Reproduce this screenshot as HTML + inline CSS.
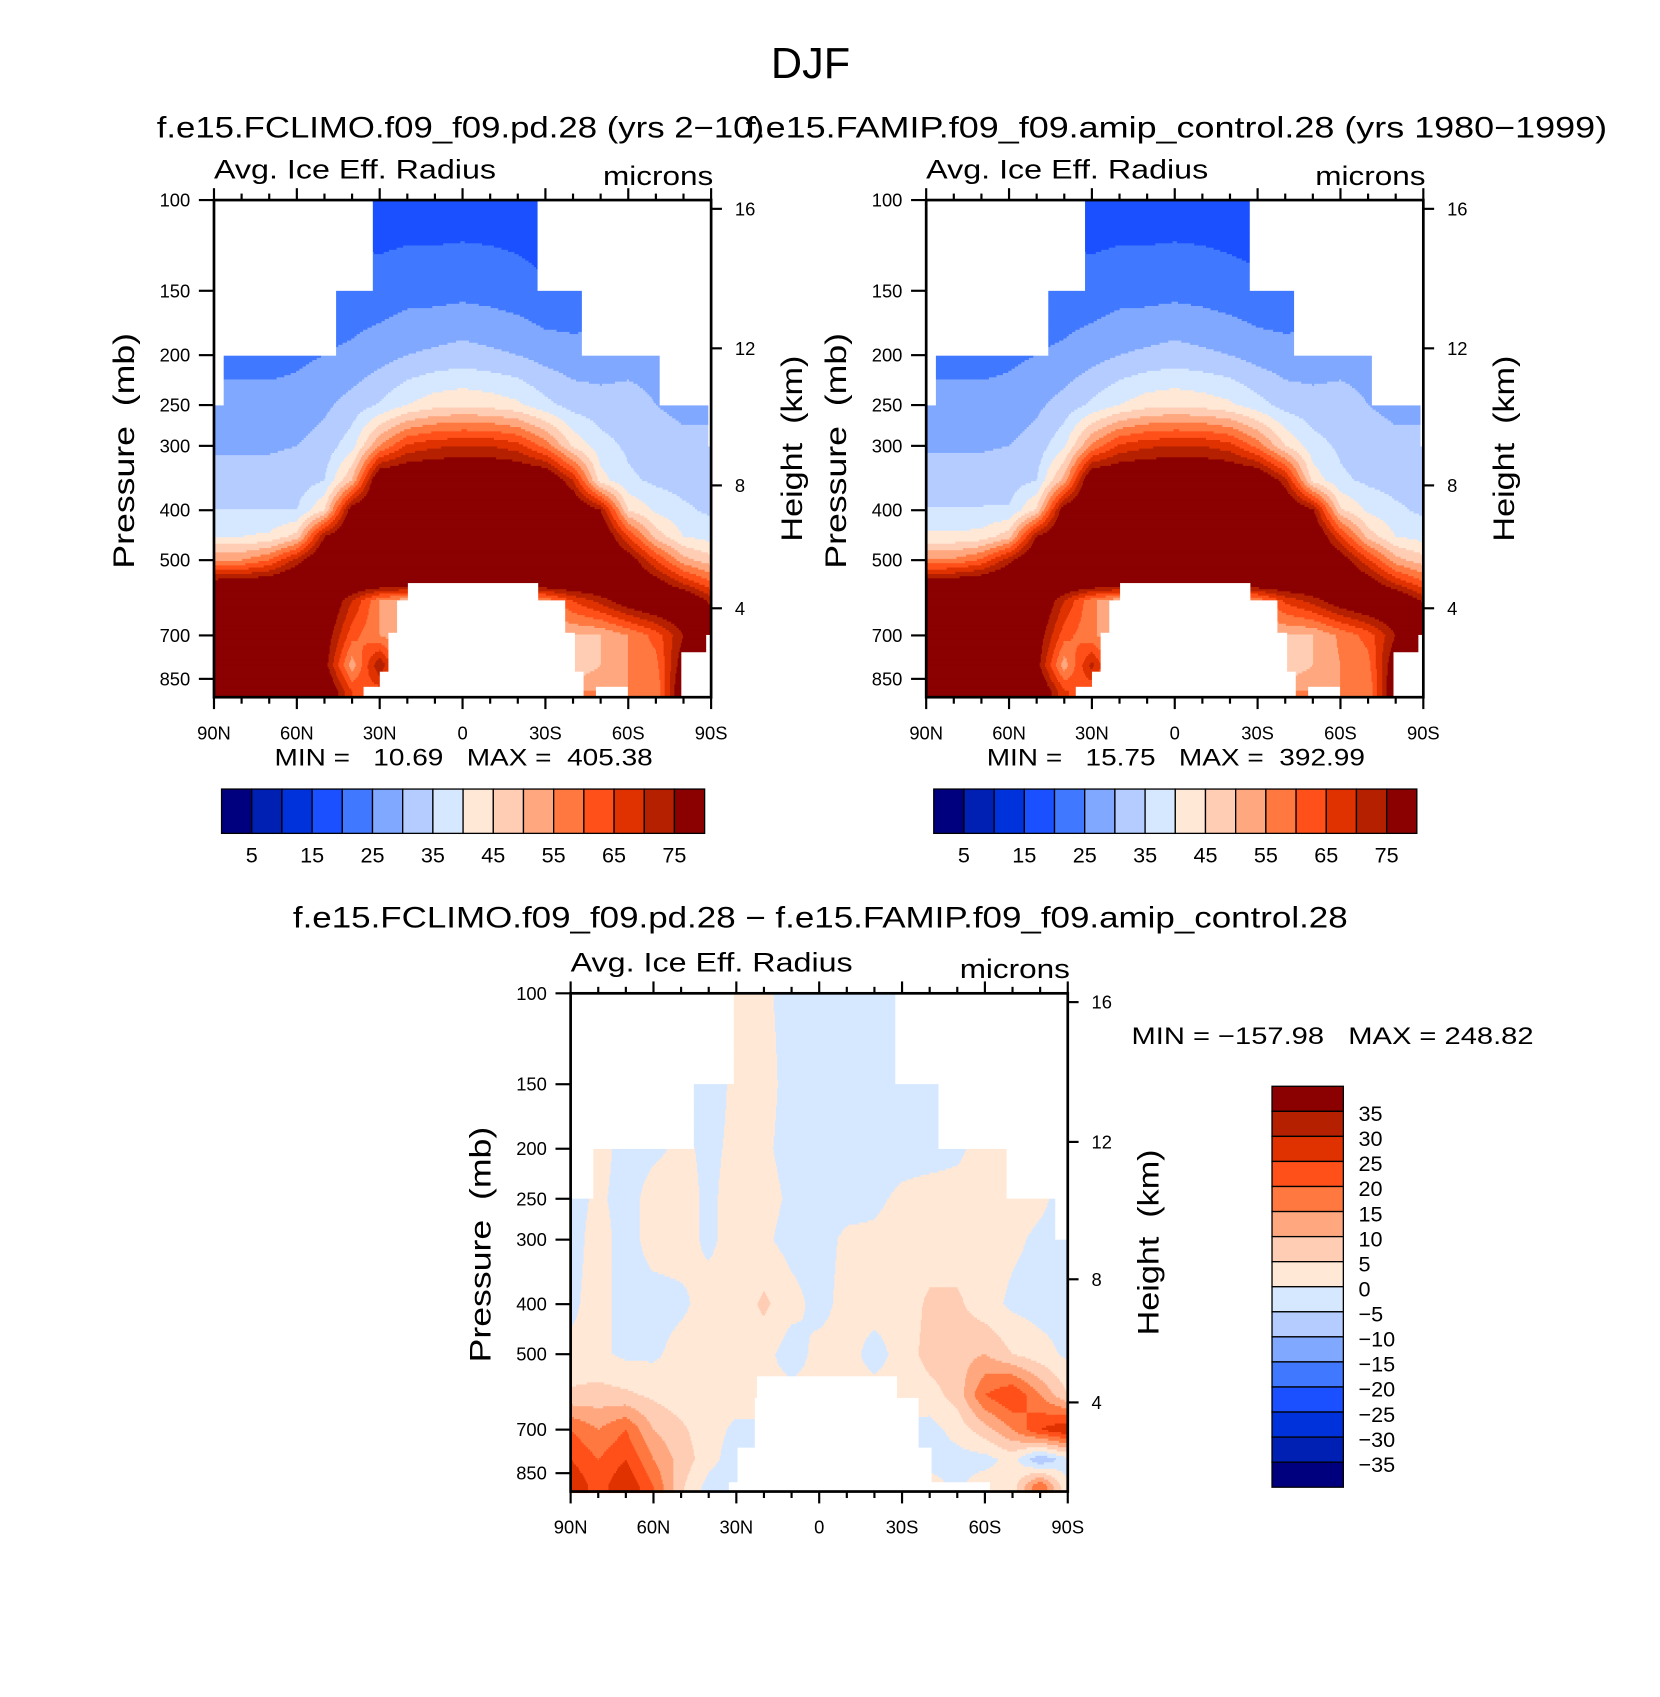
<!DOCTYPE html>
<html><head><meta charset="utf-8"><title>DJF Avg. Ice Eff. Radius</title>
<style>html,body{margin:0;padding:0;background:#fff}svg{display:block}text{font-family:"Liberation Sans",sans-serif;fill:#000}.pre{white-space:pre}</style>
</head><body>
<svg id="fig" xmlns="http://www.w3.org/2000/svg" width="1660" height="1697" viewBox="0 0 1536 1570">
<rect x="0" y="0" width="1536" height="1570" fill="#fff"/>
<text x="750" y="72" font-size="40" text-anchor="middle">DJF</text>
<text x="145" y="127" font-size="27" textLength="562" lengthAdjust="spacingAndGlyphs">f.e15.FCLIMO.f09_f09.pd.28 (yrs 2−10)</text>
<text x="690" y="127" font-size="27" textLength="797" lengthAdjust="spacingAndGlyphs">f.e15.FAMIP.f09_f09.amip_control.28 (yrs 1980−1999)</text>
<text x="271" y="858" font-size="27" textLength="976" lengthAdjust="spacingAndGlyphs">f.e15.FCLIMO.f09_f09.pd.28 − f.e15.FAMIP.f09_f09.amip_control.28</text>
<g id="p1"></g>
<g id="p2"></g>
<g id="p3"></g>
</svg>
<script>
const lats = [90,80,70,60,50,40,30,20,10,0,-10,-20,-30,-40,-50,-60,-70,-80,-90];
const climLevels = [100,150,200,250,300,350,400,450,500,550,600,700,800,900];
const clim1 = [
[19,19,19,19,18,18,17,17,17,17,17,17,17,18,18,19,19,19,19],
[22,22,22,22,22,22,22,23,23,23.5,23,22,20.5,21,22,22,22,23,23],
[23,23,23,24,25,26,28,30,31,32,31,30,28,27,27,28,28,28,28],
[27,27,27,27,29,32,35.5,40,43,44,43,41,36.5,33,32,32,30,29,29],
[29.5,29.5,29.5,30,32,38,55,66,69,70,70,67,58,44,37,34,32,31,31],
[31.5,31.5,31.5,32,35,50,85,85,85,85,85,85,85,70,42,36,34,33,33],
[35,35,35,35,45,80,85,85,85,85,85,85,85,85,75,45,39,36,34],
[40,40,41,47,75,85,85,85,85,85,85,85,85,85,85,65,48,40,38],
[55,55,60,72,85,85,85,85,85,85,85,85,85,85,85,80,65,52,47],
[77,78,80,85,85,85,85,85,85,85,85,85,85,85,85,85,78,68,60],
[85,85,85,85,85,70,55,50,50,50,50,50,55,65,72,80,85,85,73],
[85,85,85,85,80,62,55,50,50,50,50,50,50,50,50,55,62,75,85],
[85,85,85,85,78,52,75,50,50,50,50,50,45,45,50,55,58,80,85],
[85,85,85,85,85,65,62,55,55,55,55,55,55,55,55,55,55,85,85]
];
const clim2 = [
[19,19,19,19,18,18,17,17,17,17,17,17,17,18,18,19,19,19,19],
[22,22,22,22,22,22,22,23,23,23.5,23,22,21,21,22,22,22,23,23],
[23,23,23,24,25,26,28,30,31,32,31,30,28,27,27,28,28,28,28],
[27,27,27,27,29,32,36,40,43,44,43,41,37,33,32,32,30,29,29],
[29.5,29.5,29.5,30,32,39,56,66,69,70,70,67,58,45,37,34,32,31,31],
[32,32,32,32.5,35,52,85,85,85,85,85,85,85,72,43,36,34,33,33],
[35.5,35.5,35.5,35.5,46,80,85,85,85,85,85,85,85,85,76,46,39,36,34],
[41,41,42,48,75,85,85,85,85,85,85,85,85,85,85,66,48,40,38],
[56,56,61,73,85,85,85,85,85,85,85,85,85,85,85,80,66,52,47],
[78,79,81,85,85,85,85,85,85,85,85,85,85,85,85,85,79,68,60],
[85,85,85,85,85,70,56,50,50,50,50,50,55,66,72,80,85,85,74],
[85,85,85,85,80,62,56,50,50,50,50,50,50,50,50,56,62,75,85],
[85,85,85,85,78,52,72,50,50,50,50,50,45,45,50,55,58,82,85],
[85,85,85,85,85,66,60,55,55,55,55,55,55,55,55,55,55,85,85]
];
const diffLevels = [100,150,200,250,300,400,500,600,700,800,900];
const diffVals = [
[-2,-2,-2,-2,-2,-2,1,1,-2,-2,-2,-2,-2,-2,-2,-2,-2,-2,-2],
[-2,-2,-2,-2,-2,-2,1,2,-2,-2,-2,-2,-2,-2,-2,-2,-2,-2,-2],
[2,2,-2,-1,1,-1,1,1,-2,-2,-2,-2,-2,-2,-1,2,2,2,2],
[-2,1,-2,2,2,-1,2,2,-1,-2,-2,-1,1,2,2,2,2,1,-2],
[-2,2,-2,2,2,-1,2,1,-2,-2,1,1,2,2,2,2,1,-1,-2],
[-1,2,-2,-2,-1,2,2,6,2,-2,2,2,2,6,6,2,-1,-2,-2],
[1,1,-1,-1,2,2,2,2,-3,2,2,-2,2,7,8,10,5,2,-1],
[6,7,6,4,2,2,2,2,2,2,2,2,2,3,7,20,25,15,5],
[20,15,20,10,6,2,-1,-1,-1,-1,-1,-1,-1,-2,2,8,15,25,30],
[25,20,25,15,8,2,-3,-3,-3,-3,-3,-3,-3,-2,-2,-2,2,-10,-2],
[30,22,30,20,6,-2,-5,-5,-5,-5,-5,-5,-5,2,-1,3,2,20,0]
];
// masks: [latNorth, latSouth, pressure limit]
const climTopMask = [[90,32.6,150],[-27,-90,150],[90,45.8,200],[-42.9,-90,200],[90,86.4,250],[-71.4,-90,250],[-89,-90,300]];
const climBotMask = [[20,-27.4,551],[24,-37.3,600],[27,-40.8,690],[30,-44,820],[36,-44,880],[-79,-90,750],[-88,-90,700],[-48,-60,880]];
const diffTopMask = [[90,31,150],[-27.4,-90,150],[90,45.4,200],[-43,-90,200],[90,81.8,250],[-67.7,-90,250],[-85.3,-90,300]];
const diffBotMask = [[22.7,-28,550],[23.5,-36,605],[29.7,-40.6,760],[33,-43,880],[-43,-62,885]];
const colors = ["#00007f","#0020b4","#0032dc","#1a50ff","#4078ff","#80a8ff","#b4ccff","#d6e8ff","#ffe8d6","#ffccb4","#ffa880","#ff7840","#ff501a","#e03200","#b42000","#8b0000"];
const climBarLabels = ["5","15","25","35","45","55","65","75"];
const diffBarLabels = ["35","30","25","20","15","10","5","0","−5","−10","−15","−20","−25","−30","−35"];
const pTickVals = [100,150,200,250,300,400,500,700,850];
const hTickLabels = ["16","12","8","4"];
const hTickPress = [104,194,358,620];
const latTickVals = [90,60,30,0,-30,-60,-90];
const latTickLabels = ["90N","60N","30N","0","30S","60S","90S"];

const NS = "http://www.w3.org/2000/svg";
function mk(tag, attrs, parent){const e=document.createElementNS(NS,tag);for(const k in attrs)e.setAttribute(k,attrs[k]);parent.appendChild(e);return e;}

function drawPanel(g, o){
  const xs = lat => o.x0 + (90-lat)/180*o.w;
  const yp = p => o.y0 + (Math.log10(p)-2)/0.965*o.h;
  const latOf = x => 90 - (x-o.x0)/o.w*180;
  const pOf = y => Math.pow(10, 2 + (y-o.y0)/o.h*0.965);
  const L = o.levels.map(p=>Math.log10(p));
  function val(lat,p){
    let fi=(90-lat)/10; fi=Math.max(0,Math.min(18,fi));
    let i0=Math.min(17,Math.floor(fi)); const tx=fi-i0;
    const lp=Math.log10(p); let j0=0;
    if(lp<=L[0]){j0=0;} else if(lp>=L[L.length-1]){j0=L.length-2;} else {while(j0<L.length-2 && L[j0+1]<lp)j0++;}
    let ty=(lp-L[j0])/(L[j0+1]-L[j0]); ty=Math.max(0,Math.min(1,ty));
    const g0=o.grid[j0], g1=o.grid[j0+1];
    const a=g0[i0]*(1-tx)+g0[i0+1]*tx, b=g1[i0]*(1-tx)+g1[i0+1]*tx;
    return a*(1-ty)+b*ty;
  }
  function masked(lat,p){
    for(const m of o.topMask){ if(lat<=m[0]&&lat>=m[1]&&p<m[2]) return true; }
    for(const m of o.botMask){ if(lat<=m[0]&&lat>=m[1]&&p>m[2]) return true; }
    return false;
  }
  const field = mk("g",{},g);
  
  
  const step=2;
  for(let y=o.y0;y<o.y0+o.h;y+=step){
    const p=pOf(y+step/2);
    let runStart=null, runCol=null;
    for(let x=o.x0;x<=o.x0+o.w;x++){
      let c=null;
      if(x<o.x0+o.w){const lat=latOf(x+0.5); if(!masked(lat,p)) c=colors[o.bin(val(lat,p))];}
      if(c!==runCol){
        if(runCol!==null){
          const r=mk("rect",{x:runStart,y:y,width:x-runStart+0.4,height:step+0.4,fill:runCol},field);
          
          
        }
        runStart=x; runCol=c;
      }
    }
  }
  const fr=mk("rect",{x:o.x0,y:o.y0,width:o.w,height:o.h,fill:"none",stroke:"#000","stroke-width":2.5},g);
  
  
  const ax=mk("g",{stroke:"#000","stroke-width":2},g);
  
  
  for(let lat=90;lat>=-90;lat-=10){
    const x=xs(lat), major=(lat%30===0), len=major?11:6;
    mk("line",{x1:x,y1:o.y0,x2:x,y2:o.y0-len},ax);
    mk("line",{x1:x,y1:o.y0+o.h,x2:x,y2:o.y0+o.h+len},ax);
  }
  latTickVals.forEach((lat,i)=>{
    const t=mk("text",{x:xs(lat),y:o.y0+o.h+39,"font-size":17,"text-anchor":"middle"},g);
    t.textContent=latTickLabels[i];
    
    
  });
  pTickVals.forEach(p=>{
    const y=yp(p);
    mk("line",{x1:o.x0,y1:y,x2:o.x0-14,y2:y},ax);
    const t=mk("text",{x:o.x0-22,y:y+6,"font-size":17,"text-anchor":"end"},g);
    t.textContent=String(p);
    
    
  });
  hTickPress.forEach((p,i)=>{
    const y=yp(p);
    mk("line",{x1:o.x0+o.w,y1:y,x2:o.x0+o.w+10,y2:y},ax);
    const t=mk("text",{x:o.x0+o.w+22,y:y+6,"font-size":17},g);
    t.textContent=hTickLabels[i];
    
    
  });
  const cy=o.y0+o.h*0.5;
  const t1=mk("text",{x:0,y:0,"font-size":27,"text-anchor":"middle",class:"pre",textLength:218,lengthAdjust:"spacingAndGlyphs",transform:`translate(${o.x0-74},${cy+2}) rotate(-90)`},g);
  t1.textContent="Pressure  (mb)";
  
  
  const t2=mk("text",{x:0,y:0,"font-size":27,"text-anchor":"middle",class:"pre",textLength:172,lengthAdjust:"spacingAndGlyphs",transform:`translate(${o.x0+o.w+84},${cy}) rotate(-90)`},g);
  t2.textContent="Height  (km)";
  
  
  const t3=mk("text",{x:o.x0,y:o.y0-20,"font-size":25,textLength:261,lengthAdjust:"spacingAndGlyphs"},g);
  t3.textContent="Avg. Ice Eff. Radius";
  
  
  const t4=mk("text",{x:o.x0+o.w+2,y:o.y0-14,"font-size":25,"text-anchor":"end",textLength:102,lengthAdjust:"spacingAndGlyphs"},g);
  t4.textContent="microns";
  
  
}

function hBar(g,x0,y0,w,h){
  const bw=w/16;
  colors.forEach((c,i)=>{
    const r=mk("rect",{x:x0+i*bw,y:y0,width:bw,height:h,fill:c,stroke:"#000","stroke-width":1.2},g);
    
    
  });
  climBarLabels.forEach((s,i)=>{
    const t=mk("text",{x:x0+(1+2*i)*bw,y:y0+h+27,"font-size":20,"text-anchor":"middle"},g);
    t.textContent=s;
    
    
  });
}
function vBar(g,x0,y0,w,h){
  const bh=h/16;
  colors.slice().reverse().forEach((c,i)=>{
    const r=mk("rect",{x:x0,y:y0+i*bh,width:w,height:bh,fill:c,stroke:"#000","stroke-width":1.2},g);
    
    
  });
  diffBarLabels.forEach((s,i)=>{
    const t=mk("text",{x:x0+w+14,y:y0+(i+1)*bh+9,"font-size":20},g);
    t.textContent=s;
    
    
  });
}
const climBin = v => Math.max(0,Math.min(15,Math.floor(v/5)));
const diffBin = v => Math.max(0,Math.min(15,Math.floor(v/5)+8));

function minmax(g,x,y,txt,anchor,len){
  const t=mk("text",{x:x,y:y,"font-size":22,"text-anchor":anchor,class:"pre",textLength:len,lengthAdjust:"spacingAndGlyphs"},g);
  t.textContent=txt;
  
  
}

const g1=document.getElementById("p1"), g2=document.getElementById("p2"), g3=document.getElementById("p3");
drawPanel(g1,{x0:198,y0:185,w:460,h:460,levels:climLevels,grid:clim1,topMask:climTopMask,botMask:climBotMask,bin:climBin});
drawPanel(g2,{x0:857,y0:185,w:460,h:460,levels:climLevels,grid:clim2,topMask:climTopMask,botMask:climBotMask,bin:climBin});
drawPanel(g3,{x0:528,y0:919,w:460,h:461,levels:diffLevels,grid:diffVals,topMask:diffTopMask,botMask:diffBotMask,bin:diffBin});
minmax(g1,429,708,"MIN =   10.69   MAX =  405.38","middle",350);
minmax(g2,1088,708,"MIN =   15.75   MAX =  392.99","middle",350);
minmax(g3,1047,966,"MIN = −157.98   MAX = 248.82","start",372);
hBar(g1,205,730,447,41);
hBar(g2,864,730,447,41);
vBar(g3,1177,1005,66,371);
</script>
</body></html>
